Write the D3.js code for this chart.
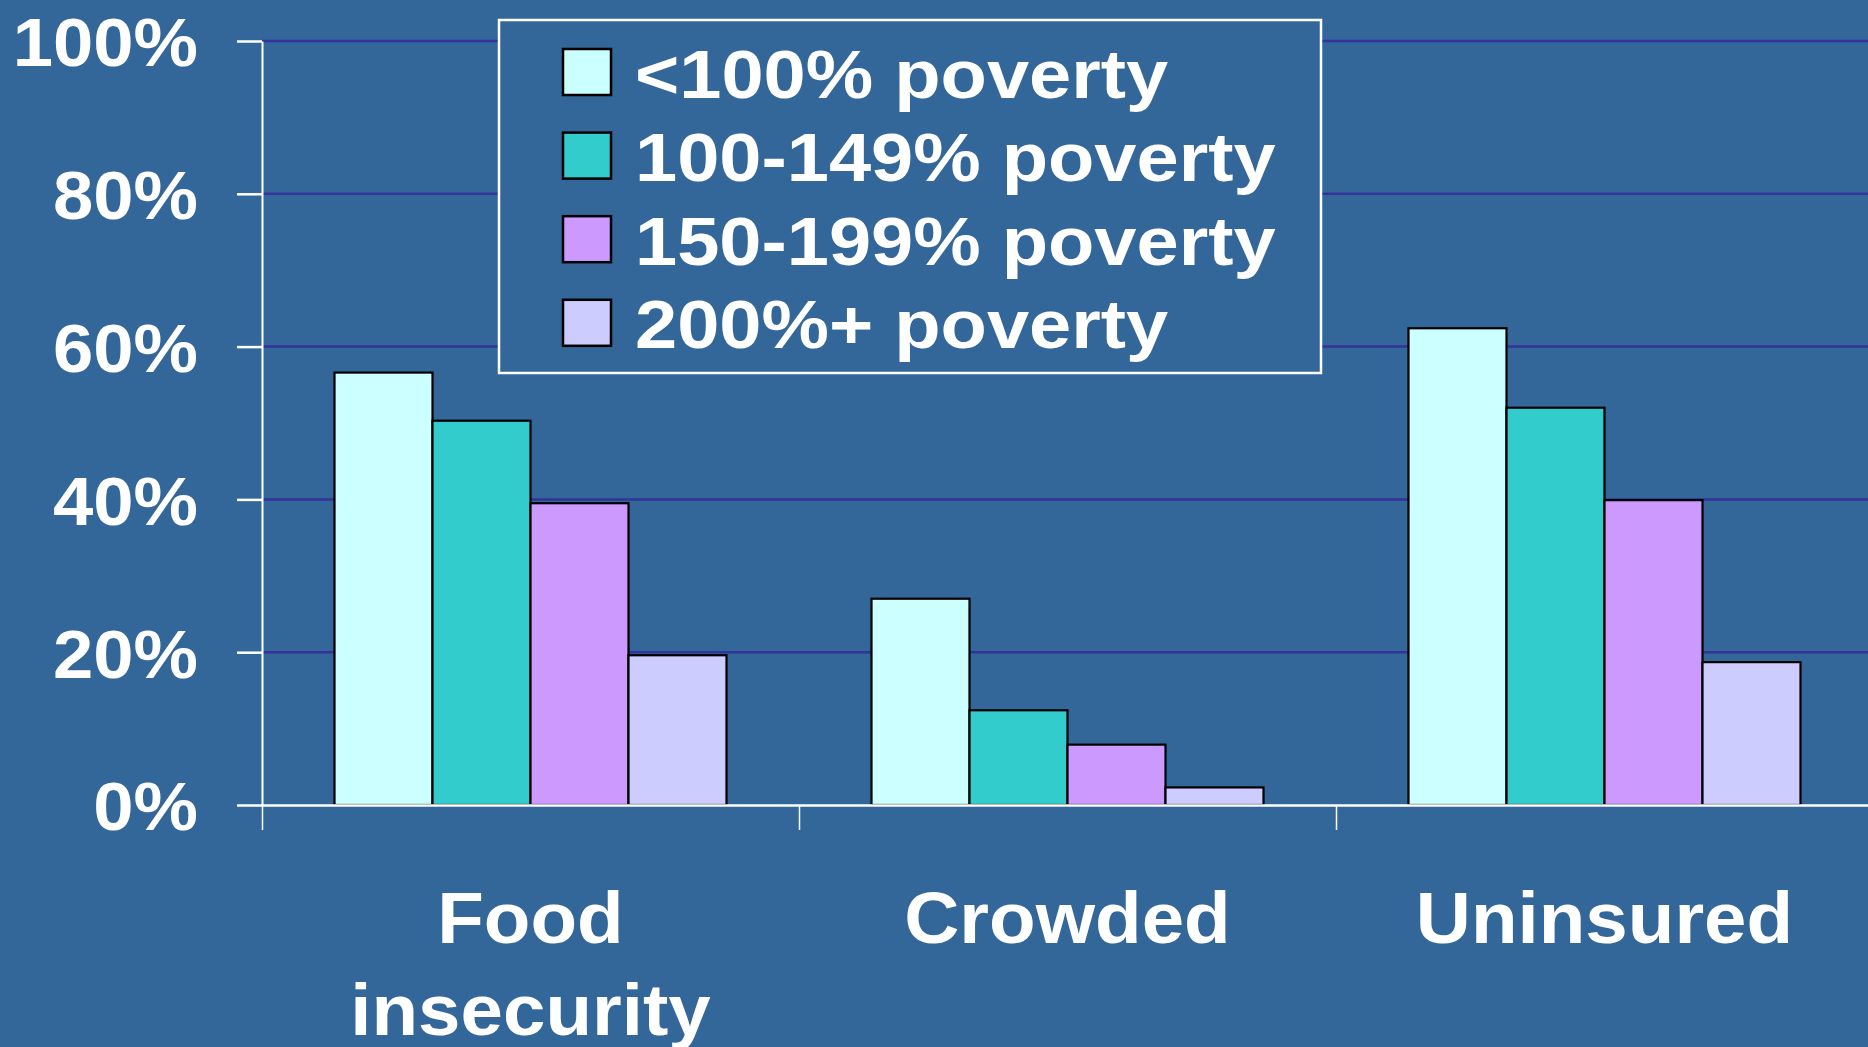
<!DOCTYPE html>
<html>
<head>
<meta charset="utf-8">
<script src="https://cdn.jsdelivr.net/npm/d3@7"></script>
<style>
  body { margin: 0; background: #336699; }
  svg { display: block; }
  text { font-family: "Liberation Sans", Arial, sans-serif; font-weight: bold; fill: #fff; }
</style>
</head>
<body>
<svg id="chart"></svg>
<script>
const categories = ['Food insecurity', 'Crowded', 'Uninsured'];
const categoryLines = [['Food', 'insecurity'], ['Crowded'], ['Uninsured']];
const series = ['<100% poverty', '100-149% poverty', '150-199% poverty', '200%+ poverty'];
const below100 = [56.6, 27.0, 62.4];
const pov100to149 = [50.3, 12.4, 52.0];
const pov150to199 = [39.5, 7.9, 39.9];
const pov200plus = [19.6, 2.3, 18.7];
const yTicks = [0, 20, 40, 60, 80, 100];
const colors = ['#ccffff', '#33cccc', '#cc99ff', '#ccccff'];

const values = [below100, pov100to149, pov150to199, pov200plus];

const width = 1868;
const height = 1047;

const svg = d3.select('#chart')
    .attr('width', width)
    .attr('height', height);

const y = d3.scaleLinear().domain([0, 100]).range([805, 41]);
const x0 = d3.scaleBand().domain(categories).range([262, 1873]);
const groupW = x0.bandwidth() * 0.73;
const x1 = d3.scaleBand().domain(series)
    .range([(x0.bandwidth() - groupW) / 2, (x0.bandwidth() + groupW) / 2]);
const xEdge = d3.scaleLinear().domain([0, categories.length]).range(x0.range());

// stretch text a bit wider, the original font is wider than Arial
const stretch = (sel, f) => sel.each(function () {
    const w = this.getComputedTextLength();
    d3.select(this).attr('textLength', w * f).attr('lengthAdjust', 'spacingAndGlyphs');
});

// gridlines
svg.append('g')
    .selectAll('line')
    .data(yTicks.filter(d => d > 0))
    .enter()
    .append('line')
    .attr('x1', x0.range()[0])
    .attr('x2', width)
    .attr('y1', d => y(d))
    .attr('y2', d => y(d))
    .attr('stroke', '#333399')
    .attr('stroke-width', 2.5);

// bars
const groups = svg.append('g')
    .selectAll('g')
    .data(categories)
    .enter()
    .append('g')
    .attr('transform', d => `translate(${x0(d)},0)`);

groups.selectAll('rect')
    .data((c, ci) => series.map((s, si) => ({ s: s, si: si, v: values[si][ci] })))
    .enter()
    .append('rect')
    .attr('x', d => x1(d.s))
    .attr('width', x1.bandwidth())
    .attr('y', d => y(d.v))
    .attr('height', d => y(0) - y(d.v))
    .attr('fill', d => colors[d.si])
    .attr('stroke', '#000')
    .attr('stroke-width', 2.2);

// y axis
const yAxis = svg.append('g')
    .attr('transform', `translate(${x0.range()[0]},0)`)
    .call(d3.axisLeft(y).tickValues(yTicks).tickFormat(d => d + '%')
        .tickSize(25).tickSizeOuter(0).tickPadding(39));
yAxis.select('.domain').attr('stroke', '#fff').attr('stroke-width', 2);
yAxis.selectAll('.tick line').attr('stroke', '#fff').attr('stroke-width', 2.5);
yAxis.selectAll('.tick text')
    .attr('font-size', 69)
    .attr('dy', '0.36em')
    .attr('fill', '#fff')
    .call(stretch, 1.05);

// x axis
const xAxis = svg.append('g')
    .attr('transform', `translate(0,${y(0)})`)
    .call(d3.axisBottom(xEdge).tickValues(d3.range(categories.length))
        .tickFormat('').tickSize(25).tickSizeOuter(0));
xAxis.select('.domain').attr('stroke', '#fff').attr('stroke-width', 2.5);
xAxis.selectAll('.tick line').attr('stroke', '#fff').attr('stroke-width', 1.5);

// category labels
const catLabels = svg.append('g')
    .selectAll('text')
    .data(categories)
    .enter()
    .append('text')
    .attr('text-anchor', 'middle')
    .attr('font-size', 72);

catLabels.selectAll('tspan')
    .data((c, i) => categoryLines[i].map(t => ({ t: t, x: x0(c) + x0.bandwidth() / 2 })))
    .enter()
    .append('tspan')
    .attr('x', d => d.x)
    .attr('y', (d, i) => 943 + i * 92)
    .text(d => d.t)
    .call(stretch, 1.06);

// legend
const legend = svg.append('g').attr('transform', 'translate(499,20)');
legend.append('rect')
    .attr('width', 822)
    .attr('height', 353)
    .attr('fill', '#336699')
    .attr('stroke', '#fff')
    .attr('stroke-width', 2.5);

const items = legend.selectAll('g')
    .data(series)
    .enter()
    .append('g')
    .attr('transform', (d, i) => `translate(0,${i * 83.6})`);

items.append('rect')
    .attr('x', 64)
    .attr('y', 29)
    .attr('width', 48)
    .attr('height', 46)
    .attr('fill', (d, i) => colors[i])
    .attr('stroke', '#000')
    .attr('stroke-width', 2.5);

items.append('text')
    .attr('x', 136)
    .attr('y', 77.5)
    .attr('font-size', 68)
    .text(d => d)
    .call(stretch, 1.115);
</script>
</body>
</html>
